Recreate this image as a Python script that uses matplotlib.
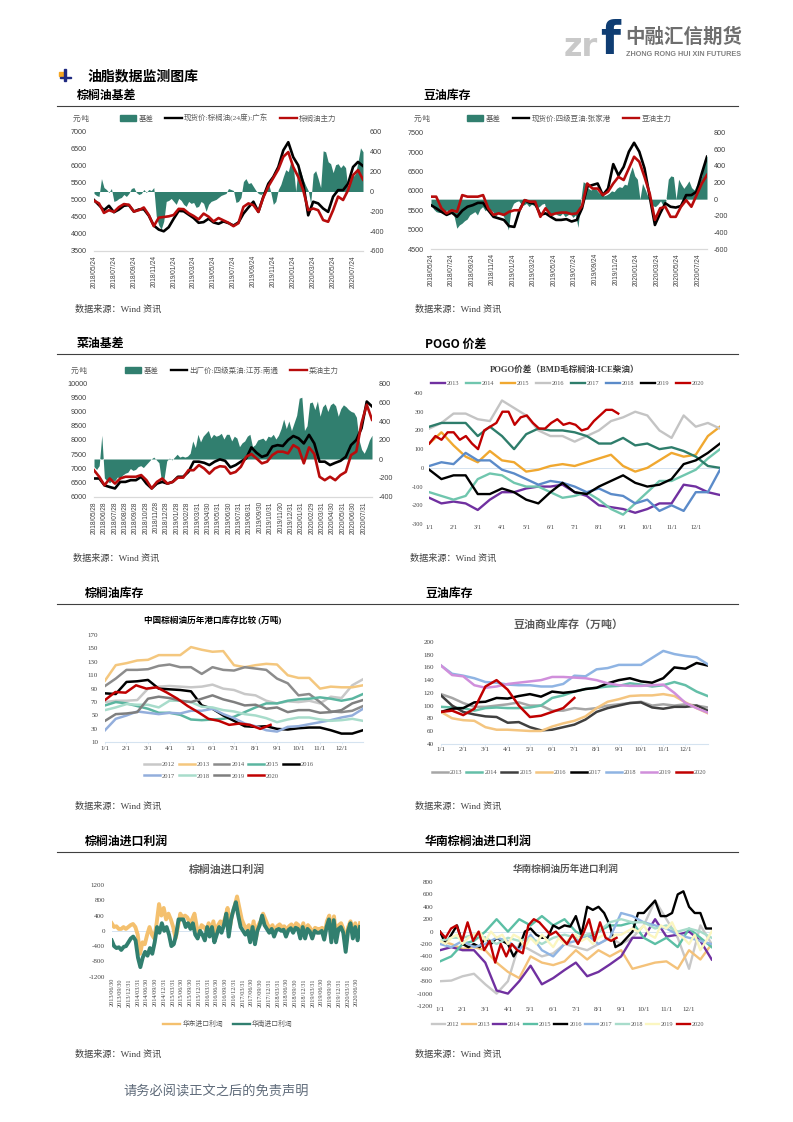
import matplotlib
matplotlib.use('Agg')
import matplotlib.pyplot as plt
import numpy as np
from matplotlib.lines import Line2D
from matplotlib.patches import Patch, Rectangle

plt.rcParams['font.family'] = ['Liberation Serif', 'Noto Sans CJK SC', 'DejaVu Sans']
plt.rcParams['axes.unicode_minus'] = False

W = 793
H = 1122

# Palm oil basis
palm_dates = ['2018/05/24', '2018/07/24', '2018/09/24', '2018/11/24', '2019/01/24', '2019/03/24', '2019/05/24',
              '2019/07/24', '2019/09/24', '2019/11/24', '2020/01/24', '2020/03/24', '2020/05/24', '2020/07/24']
palm_basis = [-20, -40, -50, 130, 40, 20, -10, 30, -100, -90, -70, -60, -30, -50, -20, 30, 40, -10, -30, -20,
              20, -10, 20, 10, 40, -250, -340, -380, -300, -100, -90, -70, -100, -130, -70, -90, -130, -150, -100,
              -120, -110, -160, -150, -100, -120, -200, -130, -100, -90, -80, -60, -40, -30, -20, 30, 20, 10, -110,
              -100, -60, 100, 130, 80, 90, 50, 10, -20, -30, -10, 30, 90, -10, -130, -100, 20, 70, 150, 220, 200,
              300, 260, 0, 250, 200, 120, 60, 10, -120, 180, 210, 130, 40, 410, 400, 300, 280, 190, 270, 280, 240,
              270, 240, 0, 200, 150, 180, 300, 440, 400]
palm_spot = [5000, 4850, 4700, 4830, 4640, 4720, 4830, 4850, 4660, 4720, 4730, 4540, 4250, 4130, 4080, 4200, 4450,
             4680, 4670, 4570, 4470, 4330, 4350, 4450, 4340, 4300, 4370, 4320, 4250, 4340, 4600, 4780, 4950, 4650,
             5100, 5480, 5680, 5970, 6460, 6700, 6260, 6020, 5480, 4550, 4950, 4900, 4750, 4650, 5100, 5290, 5290,
             5480, 5970, 6120, 6000]
palm_main = [4980, 4900, 4620, 4700, 4650, 4790, 4880, 4860, 4660, 4700, 4780, 4560, 4230, 4480, 4500, 4520, 4560,
             4740, 4730, 4610, 4530, 4430, 4600, 4510, 4370, 4470, 4400, 4330, 4230, 4320, 4800, 4900, 4850, 4650,
             5080, 5400, 5650, 5900, 6270, 6410, 5970, 5680, 5290, 4700, 4750, 4700, 4410, 4360, 4700, 5100, 5000,
             5290, 5730, 5880, 5600]

# Soybean oil basis
soy_basis = [-60, -120, -150, -160, -160, -170, -130, -150, -130, -210, -350, -310, -290, -260, -240, -190, -170,
             -150, -190, -120, -90, -140, -110, -130, -150, -210, -170, -180, -200, -270, -370, -120, -50, -30, -20,
             -60, -70, -50, -90, -60, -80, -100, -90, -60, -50, -180, -160, -200, -170, -190, -200, -170, -210, -190,
             -170, -220, -190, -340, -30, 210, 190, 130, 110, 130, 120, 80, 60, 40, 50, 70, 100, 90, 130, 150, 140,
             180, 170, 300, 390, 280, 240, 0, 190, 120, 40, 10, -80, -90, -60, -20, -80, -30, 240, 280, 270, 0, 240,
             180, 130, 170, 220, 140, 110, 170, 200, 280, 480, 520]
soy_spot = [5630, 5550, 5460, 5380, 5440, 5330, 5490, 5590, 5630, 5690, 5690, 5500, 5330, 5290, 5250, 5090, 5070,
            5500, 5760, 5690, 5670, 5380, 5420, 5330, 5250, 5250, 5270, 5210, 5250, 5550, 6110, 6150, 6190, 5890,
            6060, 6690, 6400, 6620, 7010, 7240, 7010, 6580, 5850, 5120, 5420, 5680, 5590, 5570, 5610, 5890, 5890,
            5980, 6450, 6880]
soy_main = [5850, 5850, 5550, 5420, 5500, 5460, 5890, 5850, 5850, 5850, 5890, 5550, 5380, 5420, 5380, 5460, 5500,
            5500, 5760, 5720, 5720, 5330, 5550, 5380, 5420, 5440, 5440, 5400, 5420, 5610, 6190, 6060, 6060, 5890,
            5980, 6190, 6360, 6280, 6580, 6880, 6750, 6360, 5930, 5250, 5550, 5590, 5330, 5330, 5590, 5760, 5590,
            5890, 6190, 6410]

# Rapeseed oil basis
rape_dates = ['2018/05/28', '2018/06/28', '2018/07/28', '2018/08/28', '2018/09/28', '2018/10/28', '2018/11/28',
              '2018/12/28', '2019/01/28', '2019/02/28', '2019/03/31', '2019/04/30', '2019/05/31', '2019/06/30',
              '2019/07/31', '2019/08/31', '2019/09/30', '2019/10/31', '2019/11/30', '2019/12/31', '2020/01/31',
              '2020/02/29', '2020/03/31', '2020/04/30', '2020/05/31', '2020/06/30', '2020/07/31']
rape_basis = [-80, -110, -70, 250, -200, -230, -250, -220, -230, -190, -200, -170, -150, -140, -100, -120, -110, -80,
              -70, -90, -60, -30, 0, 20, -10, -40, -240, -200, -20, 10, -10, 20, 50, 20, 30, 20, 30, 60, 190, 120,
              260, 180, 240, 270, 300, 220, 260, 240, 250, 270, 210, 260, 260, 190, 240, 220, 130, 170, 190, 240, 260,
              130, 150, 200, 210, 220, 190, 240, 230, 260, 210, 250, 320, 420, 320, 400, 300, 380, 460, 640, 650, 300,
              350, 590, 600, 520, 610, 450, 550, 580, 500, 570, 590, 560, 450, 530, 570, 550, 520, 500, 490, 440, 200,
              100, 60, 120, 200, 250]
rape_spot = [6650, 6650, 6410, 6350, 6300, 6530, 6530, 6590, 6590, 6710, 6470, 6300, 6470, 6530, 6470, 6530, 6710,
             6710, 6880, 7240, 7240, 7200, 7120, 7240, 7320, 7270, 7040, 7120, 7240, 7350, 7740, 7550, 7410, 7470,
             7770, 7820, 7790, 8000, 8140, 8060, 7880, 8180, 7880, 7240, 7240, 7120, 7200, 7270, 7410, 7820, 8000,
             8410, 9350, 9180]
rape_main = [6940, 6710, 6410, 6650, 6470, 6650, 6710, 6710, 6710, 6770, 6590, 6300, 6530, 6650, 6470, 6530, 6680,
             6680, 6940, 6940, 7120, 7000, 6820, 7000, 7080, 7060, 6820, 6880, 7060, 7410, 7510, 7350, 7180, 7240,
             7470, 7590, 7590, 7530, 7820, 7710, 7180, 7740, 7510, 6710, 6590, 6710, 6590, 6770, 6880, 7470, 7590,
             8590, 9240, 8710]

month_labels = ['1/1', '2/1', '3/1', '4/1', '5/1', '6/1', '7/1', '8/1', '9/1', '10/1', '11/1', '12/1']

# POGO spread, half month steps
pogo_2013 = [-160, -190, -180, -190, -225, -170, -130, -130, -110, -100, -100, -90, -130, -150, -200, -210, -220,
             -240, -220, -190, -190, -90, -100, -130, -145]
pogo_2014 = [-130, -150, -170, -150, -60, -30, -40, -80, -100, -100, -130, -160, -150, -130, -170, -220, -250, -190,
             -130, -70, -70, -40, -10, 50, 100]
pogo_2015 = [130, 190, 120, 60, 30, 90, 40, 30, -20, -10, 10, 20, 10, 30, 50, 70, 10, -20, 0, 40, 80, 60, 70, 170,
             220]
pogo_2016 = [210, 240, 290, 290, 260, 250, 360, 320, 280, 200, 170, 170, 140, 170, 200, 250, 270, 300, 280, 200, 160,
             280, 220, 240, 210]
pogo_2017 = [220, 240, 240, 240, 170, 220, 170, 100, 180, 210, 200, 200, 190, 170, 130, 130, 160, 120, 130, 100, 110,
             90, 60, 10, 0]
pogo_2018 = [10, 30, 20, 80, 40, 40, -10, -30, -60, -90, -70, -80, -100, -130, -110, -140, -150, -190, -170, -230,
             -200, -230, -130, -130, -10]
pogo_2019 = [-10, -60, -40, -40, -140, -140, -110, -130, -170, -190, -130, -80, -130, -140, -100, -70, -40, -80,
             -100, -90, -60, 20, 40, 80, 130]
pogo_2020 = [130, 170, 150, 190, 190, 150, 170, 130, 100, 200, 220, 240, 300, 300, 230, 270, 280, 240, 210, 210,
             240, 260, 230, 240, 230, 200, 210, 250, 280, 310, 310, 290]
pogo_series = [('2013', pogo_2013, '#7030A0', 12), ('2014', pogo_2014, '#70C6AE', 12), ('2015', pogo_2015, '#F0A830', 12),
               ('2016', pogo_2016, '#C4C4C4', 12), ('2017', pogo_2017, '#2E7D6B', 12), ('2018', pogo_2018, '#5B8BC9', 12),
               ('2019', pogo_2019, '#000000', 12), ('2020', pogo_2020, '#C00000', 7.8)]

# Palm oil stocks
palm_stock_2012 = [70, 72, 72, 73, 90, 93, 94, 93, 92, 93, 96, 90, 88, 82, 80, 72, 68, 71, 70, 72, 68, 78, 76, 95, 104]
palm_stock_2013 = [102, 125, 128, 132, 133, 140, 140, 140, 152, 148, 145, 146, 125, 122, 125, 127, 126, 110, 106,
                   106, 90, 93, 92, 92, 95]
palm_stock_2014 = [94, 105, 118, 118, 119, 124, 126, 122, 122, 112, 122, 118, 117, 122, 120, 118, 105, 98, 80, 82, 70,
                   56, 55, 57, 64]
palm_stock_2015 = [65, 70, 68, 64, 60, 54, 54, 51, 44, 43, 44, 45, 48, 55, 62, 68, 68, 72, 74, 75, 77, 75, 72, 75, 82]
palm_stock_2016 = [83, 82, 100, 101, 103, 90, 89, 88, 86, 65, 60, 50, 42, 34, 33, 34, 30, 29, 31, 32, 32, 28, 23, 23, 28]
palm_stock_2017 = [28, 45, 50, 56, 54, 52, 54, 53, 57, 57, 60, 52, 46, 38, 34, 28, 26, 33, 34, 37, 40, 43, 47, 50, 60]
palm_stock_2018 = [58, 62, 67, 66, 66, 62, 72, 72, 70, 63, 62, 58, 56, 52, 50, 46, 40, 44, 47, 47, 44, 42, 43, 45, 42]
palm_stock_2019 = [42, 52, 53, 55, 75, 78, 76, 72, 70, 75, 80, 74, 70, 65, 66, 60, 62, 55, 58, 58, 54, 55, 58, 68, 73]
palm_stock_2020 = [73, 85, 84, 95, 90, 92, 84, 75, 64, 55, 45, 42, 36, 38, 36, 30, 36]
palm_stock_series = [('2012', palm_stock_2012, '#C8C8C8', 12), ('2013', palm_stock_2013, '#F4C77E', 12),
                     ('2014', palm_stock_2014, '#8C8C8C', 12), ('2015', palm_stock_2015, '#5BB5A0', 12),
                     ('2016', palm_stock_2016, '#000000', 12), ('2017', palm_stock_2017, '#93AEDC', 12),
                     ('2018', palm_stock_2018, '#A8DCCB', 12), ('2019', palm_stock_2019, '#7F7F7F', 12),
                     ('2020', palm_stock_2020, '#C00000', 7.7)]

# Soybean oil stocks
soy_stock_2013 = [118, 112, 104, 98, 98, 100, 102, 105, 100, 100, 92, 92, 96, 94, 96, 100, 102, 104, 106, 100, 102,
                  100, 102, 100, 97]
soy_stock_2014 = [98, 97, 96, 92, 96, 97, 96, 96, 97, 100, 112, 116, 122, 126, 128, 130, 131, 135, 133, 130, 132, 137,
                  132, 122, 115]
soy_stock_2015 = [116, 100, 90, 86, 83, 82, 73, 74, 66, 61, 62, 66, 70, 78, 90, 96, 100, 104, 105, 97, 95, 98, 98,
                  100, 92]
soy_stock_2016 = [90, 80, 77, 76, 66, 62, 62, 61, 60, 60, 67, 72, 76, 83, 96, 106, 110, 115, 116, 116, 118, 115, 105,
                  96, 88]
soy_stock_2017 = [90, 95, 96, 105, 106, 112, 111, 115, 118, 114, 122, 120, 122, 126, 128, 135, 140, 143, 138, 136, 143,
                  160, 158, 167, 163]
soy_stock_2018 = [163, 150, 147, 143, 137, 136, 133, 132, 132, 130, 130, 134, 147, 146, 157, 159, 164, 164, 164, 175,
                  186, 181, 178, 176, 165]
soy_stock_2019 = [163, 148, 146, 132, 128, 130, 134, 136, 138, 140, 145, 145, 144, 143, 140, 135, 132, 131, 131, 132,
                  133, 120, 104, 96, 89]
soy_stock_2020 = [90, 92, 85, 95, 130, 140, 125, 100, 82, 84, 90, 96, 112]
soy_stock_series = [('2013', soy_stock_2013, '#A6A6A6', 12), ('2014', soy_stock_2014, '#64BFA8', 12),
                    ('2015', soy_stock_2015, '#404040', 12), ('2016', soy_stock_2016, '#F4C580', 12),
                    ('2017', soy_stock_2017, '#000000', 12), ('2018', soy_stock_2018, '#8FB4E3', 12),
                    ('2019', soy_stock_2019, '#D08FDB', 12), ('2020', soy_stock_2020, '#C00000', 6)]

# Import profit, east and south China
profit_dates = ['2013/06/30', '2013/09/30', '2013/12/31', '2014/03/31', '2014/06/30', '2014/09/30', '2014/12/31',
                '2015/03/31', '2015/06/30', '2015/09/30', '2015/12/31', '2016/03/31', '2016/06/30', '2016/09/30',
                '2016/12/31', '2017/03/31', '2017/06/30', '2017/09/30', '2017/12/31', '2018/03/31', '2018/06/30',
                '2018/09/30', '2018/12/31', '2019/03/31', '2019/06/30', '2019/09/30', '2019/12/31', '2020/03/31',
                '2020/06/30']
profit_east = [200, 100, 120, 50, 50, 100, 50, 100, 150, 180, 100, -100, -600, -300, -350, -100, 100, -100, -200, 200,
               700, 400, 600, 300, 450, 300, 100, -200, 100, 450, 350, 400, 350, 200, 300, 450, 100, -50, 150, 100, 0,
               200, 0, 250, -100, 150, 250, 150, 350, 600, 100, 450, 650, 900, 600, 300, 150, 50, 150, -100, 250, -200,
               150, 250, 450, 300, 150, 70, 150, -20, 120, 170, 100, 120, 20, 120, 170, 70, 200, 150, -50, 200, -50,
               150, 70, -50, 80, 50, 50, 80, -100, 250, 400, -100, 380, -150, 150, 200, 50, -400, 100, 250, -50, 200,
               -100, 200]
profit_south = [-250, -400, -450, -430, -500, -420, -400, -300, -200, -150, -250, -700, -950, -700, -550, -650, -450,
                -600, -300, 100, -50, 200, 0, 100, -100, -400, -350, -100, 300, 300, 300, 100, 200, 50, 200, -100,
                -200, 0, -100, -250, 100, -150, 100, -300, -100, 100, -50, 150, 450, -150, 300, 550, 750, 400, 100, 0,
                -100, 0, -300, 100, -350, 0, 150, 400, 150, 50, -50, 50, -150, 20, 50, 0, 30, -150, 20, 70, -50, 80,
                50, -200, 100, -200, 50, -20, -200, 0, -50, -50, 0, -230, 100, 300, -300, 280, -300, 50, 100, -50,
                -550, 0, 200, -200, 100, -250, 100]

# South China import profit by year
south_2012 = [-800, -790, -720, -680, -850, -1000, -800, -200, -300, -400, -350, -200, -250, -300, -200, -100, -200,
              -100, 100, 500, 200, -100, -600, 100, -200]
south_2013 = [-150, -200, -280, -250, -300, -500, -650, -750, -400, -500, -540, -480, -300, -450, -300, -400, -300,
              -600, -550, -500, -480, -600, -300, -450, -200]
south_2014 = [-300, -250, -300, -300, -500, -950, -1000, -800, -550, -850, -750, -620, -500, -720, -650, -530, -400,
              -100, -100, 200, -80, -50, 0, -150, -450]
south_2015 = [-480, -400, -200, -150, 0, 200, 0, 200, 100, 250, 100, 200, 0, -100, 0, 100, 100, 150, -100, -200, -100,
              -250, 50, -100, -250]
south_2016 = [0, -200, -50, 100, -200, -250, -200, -250, -100, -200, -100, -150, -200, -400, -250, 0, 50, -50, -100,
              -100, 100, 50, 100, 80, 250, -50, 400, 350, 400, 300, 100, -250, -200, -100, 0, 300, 300, 400, 500, 250,
              250, 300, 600, 650, 400, 300, 300, 50, 50]
south_2017 = [-200, -250, -150, -250, -200, -100, -150, -300, -50, -300, -400, -200, -150, -50, -200, -100, 300, 250,
              150, 100, 50, -50, -100, -150, -200]
south_2018 = [-150, -100, -100, -50, -100, -200, -100, -150, -100, -200, -100, -50, -100, -50, 0, 150, 200, 150, 150,
              50, 100, 0, 50, 0, -100]
south_2019 = [-150, -200, -100, -50, -200, -100, -50, 0, -150, 0, -100, -50, -200, -50, -100, -250, -100, -200, -50,
              -150, -250, -100, -200, -100, -50, -150, -100, -200, -100, -50, -150, -50, -50, 0, 50, 0, 100, -50, -100,
              100, 50, 150, -50, -100, -200, -50, -300, -150, 0]
south_2020 = [0, -100, 50, 100, -150, 150, -150, 0, -300, -150, -500, -200, -400, -200, -300, -350, 100, 200, 150, 50,
              -50, 0, -100, -200, -50, -200, -20, 200, -150, 150, -100, -150, -100]
south_series = [('2012', south_2012, '#C8C8C8', 12), ('2013', south_2013, '#F4C27A', 12),
                ('2014', south_2014, '#7030A0', 12), ('2015', south_2015, '#5CBFA5', 12),
                ('2016', south_2016, '#000000', 12), ('2017', south_2017, '#8FB4E3', 12),
                ('2018', south_2018, '#A8DCCB', 12), ('2019', south_2019, '#FBF6C0', 12),
                ('2020', south_2020, '#C00000', 7.8)]

GREEN = '#317F6F'
RED = '#B80C0C'
GREY = '#595959'
AXIS = '#D9D9D9'

fig = plt.figure(figsize=(W / 100, H / 100), dpi=100)
fig.patch.set_facecolor('white')


def make_axes(left, top, right, bottom):
    return fig.add_axes([left / W, 1 - bottom / H, (right - left) / W, (bottom - top) / H])


def put_text(x, y, s, size, **kw):
    kw.setdefault('va', 'center')
    kw.setdefault('ha', 'left')
    return fig.text(x / W, 1 - y / H, s, fontsize=size, **kw)


def put_rule(x0, x1, y):
    fig.add_artist(Line2D([x0 / W, x1 / W], [1 - y / H, 1 - y / H], color='#404040', lw=0.8))


def add_legend(ax, handles, labels, cx, cy, ncol=8, spacing=1.0, size=4.8, handlelength=2.6):
    ax.legend(handles, labels, loc='center', bbox_to_anchor=(cx / W, 1 - cy / H), bbox_transform=fig.transFigure,
              ncol=ncol, frameon=False, fontsize=size, labelcolor=GREY, columnspacing=spacing,
              handlelength=handlelength, handletextpad=0.3, borderpad=0, labelspacing=0.9)


def clean_axes(ax, bottom=AXIS):
    for side in ['top', 'left', 'right']:
        ax.spines[side].set_visible(False)
    ax.spines['bottom'].set_color(bottom)
    ax.spines['bottom'].set_linewidth(0.8)
    ax.patch.set_visible(False)


def basis_chart(box, basis, spot, main, span, ylim, yticks, rlim, rticks, xticks, xlabels):
    ax = make_axes(*box)
    ar = ax.twinx()
    ar.fill_between(np.linspace(0, span, len(basis)), basis, 0, color=GREEN, lw=0)
    ax.plot(np.linspace(0, span, len(spot)), spot, color='black', lw=1.9)
    ax.plot(np.linspace(0, span, len(main)), main, color=RED, lw=1.9)
    ax.set_zorder(ar.get_zorder() + 1)
    clean_axes(ax)
    clean_axes(ar)
    ax.set_xlim(0, span)
    ax.set_ylim(*ylim)
    ar.set_ylim(*rlim)
    ax.set_yticks(yticks)
    ar.set_yticks(rticks)
    ax.set_xticks(xticks)
    ax.set_xticklabels(xlabels, rotation=90, fontsize=4.7, family='Liberation Sans', color='#404040')
    ax.tick_params(axis='x', length=0, pad=3)
    ax.tick_params(axis='y', length=0, pad=5, labelsize=5.2, labelcolor='#404040')
    ar.tick_params(axis='y', length=0, pad=5, labelsize=5.2, labelcolor='#404040')
    for lab in ax.get_yticklabels() + ar.get_yticklabels():
        lab.set_family('Liberation Sans')
    return ax


def season_chart(box, series, ylim, yticks, lw=1.7):
    ax = make_axes(*box)
    for name, vals, col, span in series:
        ax.plot(np.linspace(0, span, len(vals)), vals, color=col, lw=lw, label=name)
    clean_axes(ax, '#D5E3F0')
    ax.set_xlim(0, 12)
    ax.set_ylim(*ylim)
    ax.set_yticks(yticks)
    ax.set_xticks(range(12))
    ax.set_xticklabels(month_labels)
    ax.tick_params(axis='x', length=1.5, width=0.5, color='#D5E3F0', pad=1, labelsize=5, labelcolor='#404040')
    ax.tick_params(axis='y', length=0, pad=5, labelsize=5, labelcolor='#404040')
    return ax


# Page header
fig.add_artist(Rectangle((59 / W, 1 - 76 / H), 6 / W, 4 / H, color='#F5A623', transform=fig.transFigure))
fig.add_artist(Rectangle((60 / W, 1 - 78 / H), 11 / W, 1.4 / H, color='#1F2A80', transform=fig.transFigure))
fig.add_artist(Rectangle((64.4 / W, 1 - 81 / H), 1.4 / W, 12 / H, color='#1F2A80', transform=fig.transFigure))
put_text(564, 47, 'zr', 23, color='#C9C9C9', weight='bold', family='DejaVu Sans')
put_text(600, 41, 'f', 33, color='#0F3D73', weight='bold', family='DejaVu Sans')
put_text(625, 37, '中融汇信期货', 14, color='#6E6E6E', weight='bold', family='Noto Sans CJK SC')
put_text(626, 54, 'ZHONG RONG HUI XIN FUTURES', 5.2, color='#808080', family='Liberation Sans', weight='bold')
put_text(88, 76, '油脂数据监测图库', 10, weight='bold', family='Noto Sans CJK SC')

headings = [(77, 95, '棕榈油基差'), (423, 95, '豆油库存'), (77, 344, '菜油基差'), (425, 344, 'POGO 价差'),
            (85, 593, '棕榈油库存'), (425, 593, '豆油库存'), (85, 841, '棕榈油进口利润'), (425, 841, '华南棕榈油进口利润')]
for hx, hy, title in headings:
    put_text(hx, hy, title, 8.6, weight='bold', family='Noto Sans CJK SC')
for ry in [106, 354, 603.5, 851.5]:
    put_rule(57, 738, ry)
sources = [(75, 309), (415, 309), (73, 558), (410, 558), (75, 806), (415, 806), (75, 1054), (415, 1054)]
for sx, sy in sources:
    put_text(sx, sy, '数据来源：Wind 资讯', 6.6, color='#404040')
put_text(123, 1092, '请务必阅读正文之后的免责声明', 9.5, color='#5F6B7A')

basis_handles = [Patch(color=GREEN), Line2D([], [], color='black', lw=1.7), Line2D([], [], color=RED, lw=1.7)]

# Chart 1
ax1 = basis_chart((94, 132, 363, 251), palm_basis, palm_spot, palm_main, 27, (3500, 7000), range(3500, 7001, 500),
                  (-600, 600), range(-600, 601, 200), range(0, 27, 2), palm_dates)
put_text(73, 118, '元/吨', 5.4, color=GREY)
add_legend(ax1, basis_handles, ['基差', '现货价:棕榈油(24度):广东', '棕榈油主力'], 228, 118, spacing=1.6, size=5.4,
           handlelength=2.2)

# Chart 2
ax2 = basis_chart((431, 132.7, 707, 249), soy_basis, soy_spot, soy_main, 26.9, (4500, 7500), range(4500, 7501, 500),
                  (-600, 800), range(-600, 801, 200), range(0, 27, 2), palm_dates)
put_text(414, 118, '元/吨', 5.4, color=GREY)
add_legend(ax2, basis_handles, ['基差', '现货价:四级豆油:张家港', '豆油主力'], 569, 118, spacing=1.6, size=5.4,
           handlelength=2.2)

# Chart 3
ax3 = basis_chart((94, 383, 372, 497), rape_basis, rape_spot, rape_main, 26.8, (6000, 10000), range(6000, 10001, 500),
                  (-400, 800), range(-400, 801, 200), range(27), rape_dates)
put_text(71, 370, '元/吨', 5.4, color=GREY)
add_legend(ax3, basis_handles, ['基差', '出厂价:四级菜油:江苏:南通', '菜油主力'], 232, 370, spacing=1.6, size=5.4,
           handlelength=2.2)

# Chart 4
ax4 = season_chart((429.3, 393, 720, 524), pogo_series, (-300, 400), range(-300, 401, 100))
ax4.axhline(0, color='#D5E3F0', lw=0.7, zorder=0)
ax4.spines['bottom'].set_visible(False)
ax4.tick_params(axis='x', length=0, labelsize=4.5)
ax4.tick_params(axis='y', labelsize=4.5, pad=4)
put_text(564.5, 370, 'POGO价差（BMD毛棕榈油-ICE柴油）', 6.2, ha='center', weight='bold', color='#404040')
h4, l4 = ax4.get_legend_handles_labels()
add_legend(ax4, h4, l4, 568, 383, spacing=1.1, size=4.5, handlelength=2.2)

# Chart 5, legend is filled by column so order it to read across two rows
ax5 = season_chart((105, 635, 363, 742.3), palm_stock_series, (10, 170), range(10, 171, 20), lw=1.8)
put_text(213, 620.7, '中国棕榈油历年港口库存比较 (万吨)', 6.2, ha='center', weight='bold', color='black')
h5, l5 = ax5.get_legend_handles_labels()
order5 = [0, 5, 1, 6, 2, 7, 3, 8, 4]
add_legend(ax5, [h5[i] for i in order5], [l5[i] for i in order5], 229, 770, ncol=5, spacing=0.6, size=4.7,
           handlelength=2.4)

# Chart 6
ax6 = season_chart((441, 642, 707.7, 743.7), soy_stock_series, (40, 200), range(40, 201, 20), lw=1.8)
put_text(568, 625, '豆油商业库存（万吨）', 7.9, ha='center', weight='bold', color=GREY, family='Noto Sans CJK SC')
h6, l6 = ax6.get_legend_handles_labels()
add_legend(ax6, h6, l6, 569, 772, spacing=0.7, size=4.6, handlelength=2.5)

# Chart 7, daily series reads as a thick band in the reference
ax7 = make_axes(111.7, 885, 360, 976.7)
ax7.plot(np.linspace(0, 28.4, len(profit_east)), profit_east, color='#F4C06E', lw=2.8)
ax7.plot(np.linspace(0, 28.4, len(profit_south)), profit_south, color=GREEN, lw=2.8)
ax7.axhline(0, color='#D5E3F0', lw=0.7, zorder=0)
clean_axes(ax7)
ax7.spines['bottom'].set_visible(False)
ax7.set_xlim(0, 28.4)
ax7.set_ylim(-1200, 1200)
ax7.set_yticks(range(-1200, 1201, 400))
ax7.set_xticks(range(29))
ax7.set_xticklabels(profit_dates, rotation=90, fontsize=4.4, color='#404040')
ax7.tick_params(axis='x', length=0, pad=1)
ax7.tick_params(axis='y', length=0, pad=5, labelsize=5, labelcolor='#404040')
put_text(227, 869, '棕榈油进口利润', 7.8, ha='center', weight='bold', color=GREY, family='Noto Sans CJK SC')
h7 = [Line2D([], [], color='#F4C06E', lw=1.7), Line2D([], [], color=GREEN, lw=1.7)]
add_legend(ax7, h7, ['华东进口利润', '华南进口利润'], 228, 1023.5, spacing=1.5, size=4.9, handlelength=2.5)

# Chart 8
ax8 = season_chart((440, 882, 711.7, 1006), south_series, (-1200, 800), range(-1200, 801, 200))
ax8.axhline(0, color='#D5E3F0', lw=0.7, zorder=0)
ax8.spines['bottom'].set_visible(False)
ax8.tick_params(axis='x', length=0)
put_text(565.7, 868.7, '华南棕榈油历年进口利润', 6.9, ha='center', weight='bold', color=GREY, family='Noto Sans CJK SC')
h8, l8 = ax8.get_legend_handles_labels()
add_legend(ax8, h8, l8, 568, 1024, ncol=9, spacing=0.5, size=4.5, handlelength=2.1)

fig.savefig('out.png', dpi=100)
